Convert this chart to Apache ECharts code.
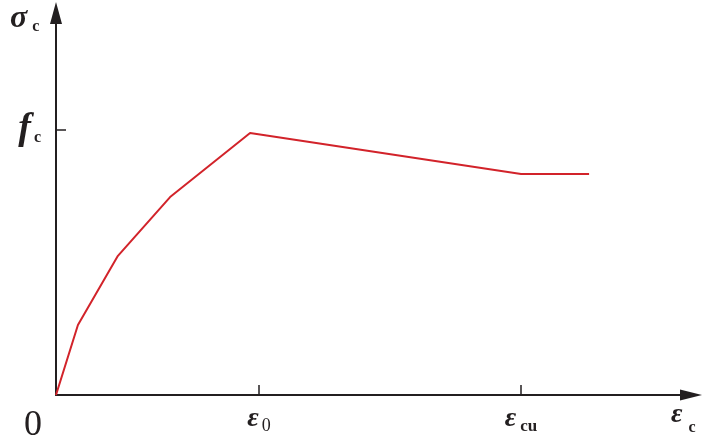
<!DOCTYPE html>
<html>
<head>
<meta charset="utf-8">
<script src="https://cdn.jsdelivr.net/npm/echarts@6/dist/echarts.min.js"></script>
<style>html,body{margin:0;padding:0;background:#fff}#c{width:705px;height:438px}</style>
</head>
<body>
<div id="c"></div>
<script>
// strain (in units of ε0) and stress (in units of fc)
const strain = [0, 0.108, 0.305, 0.562, 0.956, 2.291, 2.626];
const stress = [0, 0.264, 0.525, 0.747, 0.989, 0.834, 0.834];
const xTickValues = [1.0, 2.291];
const xTickLabels = ['{e|ε}{z|0}', '{e|ε}{s|cu}'];
const yTickValues = [1.0];
const yTickLabels = ['{f|f}{s|c}'];
const xMax = 3.128, yMax = 1.4415;

const FONT = 'Liberation Serif';
const INK = '#231f20';
const mainStyle = {fontFamily: FONT, fontSize: 28, lineHeight: 30, fontWeight: 'bold', fontStyle: 'italic', verticalAlign: 'top'};
const subStyle = (pt, pl, sz, bold) => ({fontFamily: FONT, fontSize: sz, lineHeight: sz, fontWeight: bold ? 'bold' : 'normal', verticalAlign: 'top', padding: [pt, 0, 0, pl]});

const chart = echarts.init(document.getElementById('c'));
chart.setOption({
  backgroundColor: '#fff',
  animation: false,
  grid: {left: 56, right: 14, top: 13, bottom: 43, containLabel: false},
  xAxis: {
    type: 'value', min: 0, max: xMax,
    splitLine: {show: false},
    axisLine: {show: true, onZero: false, lineStyle: {color: INK, width: 2}, symbol: ['none', 'triangle'], symbolSize: [11, 22]},
    axisTick: {show: true, inside: true, length: 10, customValues: xTickValues, lineStyle: {color: INK, width: 1.5}},
    axisLabel: {
      show: true, customValues: xTickValues, margin: 10,
      formatter: v => xTickLabels[xTickValues.indexOf(v)] || '',
      rich: {
        e: Object.assign({color: INK}, mainStyle),
        z: Object.assign({color: INK}, subStyle(12, 3, 18, false)),
        s: Object.assign({color: INK}, subStyle(13, 4, 17, true))
      }
    }
  },
  yAxis: {
    type: 'value', min: 0, max: yMax,
    splitLine: {show: false},
    axisLine: {show: true, onZero: false, lineStyle: {color: INK, width: 2}, symbol: ['none', 'triangle'], symbolSize: [12, 22]},
    axisTick: {show: true, inside: true, length: 10, customValues: yTickValues, lineStyle: {color: INK, width: 1.5}},
    axisLabel: {
      show: true, customValues: yTickValues, margin: 15,
      formatter: v => yTickLabels[yTickValues.indexOf(v)] || '',
      rich: {
        f: {color: INK, fontFamily: FONT, fontSize: 38, lineHeight: 40, fontWeight: 'bold', fontStyle: 'italic', verticalAlign: 'top'},
        s: Object.assign({color: INK}, subStyle(20, 3, 16, true))
      }
    }
  },
  graphic: [
    {type: 'text', left: 10, top: 3, style: {rich: {
      a: Object.assign({fill: INK}, mainStyle, {fontSize: 32, lineHeight: 32}),
      b: Object.assign({fill: INK}, subStyle(16, 5, 16, true))
    }, text: '{a|σ}{b|c}'}},
    {type: 'text', left: 671, top: 401, style: {rich: {
      a: Object.assign({fill: INK}, mainStyle),
      b: Object.assign({fill: INK}, subStyle(19, 6, 16, true))
    }, text: '{a|ε}{b|c}'}},
    {type: 'text', left: 24, top: 408, style: {text: '0', fontFamily: FONT, fontSize: 36, fill: INK}}
  ],
  series: [{
    type: 'line', data: strain.map((x, i) => [x, stress[i]]),
    showSymbol: false, symbol: 'none',
    lineStyle: {color: '#d2232a', width: 2}
  }]
});
</script>
</body>
</html>
